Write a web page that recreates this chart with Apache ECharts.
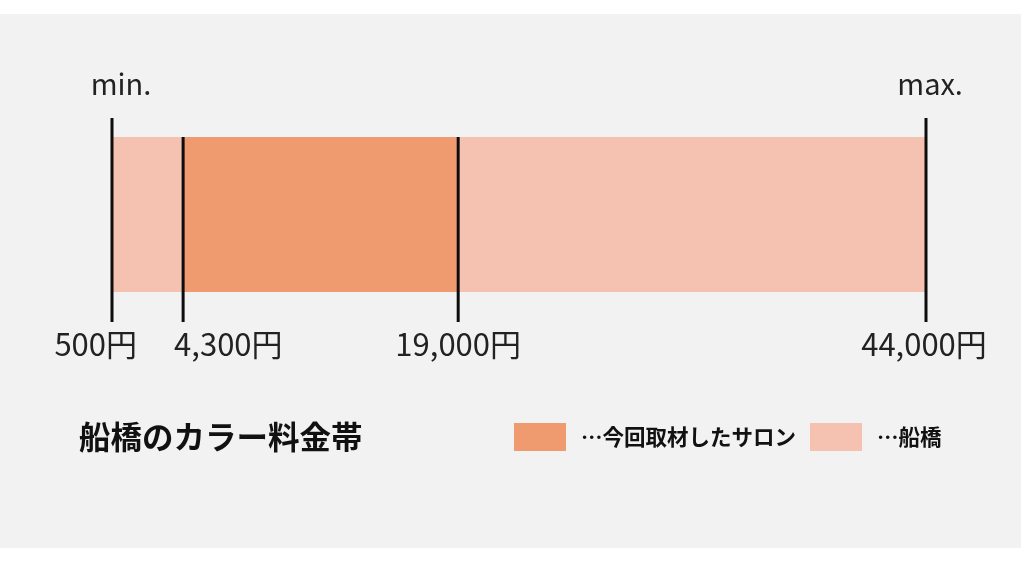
<!DOCTYPE html>
<html>
<head>
<meta charset="utf-8">
<script src="https://cdn.jsdelivr.net/npm/echarts@6/dist/echarts.min.js"></script>
<style>
html,body{margin:0;padding:0;background:#fff;}
#chart{width:1024px;height:562px;}
</style>
</head>
<body>
<div id="chart"></div>
<script>
// ---- data ----
const seriesNames = ['今回取材したサロン', '船橋'];
const salonRange = [4300, 19000];
const funabashiRange = [500, 44000];
const markerValues = [500, 4300, 19000, 44000];
const markerLabels = ['500円', '4,300円', '19,000円', '44,000円'];
const endLabels = ['min.', 'max.'];
const titleText = '船橋のカラー料金帯';

// ---- layout / style ----
const FONT = '"Noto Sans CJK JP", "Noto Sans", sans-serif';
const colors = { salon: '#F09A70', funabashi: '#F5C2B1', line: '#0d0d0d', text: '#222222' };
const barTop = 137, barBottom = 292;
const lineTopEnd = 118, lineTopInner = 137, lineBottom = 322;
const labelY = 344;
const labelStyle = [
  { align: 'right', dx: 25 },
  { align: 'left', dx: -9 },
  { align: 'center', dx: 0 },
  { align: 'center', dx: -2 }
];
const endLabelDx = [9, 4];
const endLabelY = 84;

const chart = echarts.init(document.getElementById('chart'));

function rangeItem(params, api) {
  const s = api.coord([api.value(0), 0]);
  const e = api.coord([api.value(1), 0]);
  return {
    type: 'rect',
    shape: { x: s[0], y: barTop, width: e[0] - s[0], height: barBottom - barTop },
    style: { fill: api.visual('color') }
  };
}

function markerItem(params, api) {
  const v = api.value(0);
  const x = api.coord([v, 0])[0];
  const idx = params.dataIndex;
  const isEnd = (v === funabashiRange[0] || v === funabashiRange[1]);
  const children = [{
    type: 'line',
    shape: { x1: x, y1: isEnd ? lineTopEnd : lineTopInner, x2: x, y2: lineBottom },
    style: { stroke: colors.line, lineWidth: 3 }
  }, {
    type: 'text',
    style: {
      text: markerLabels[idx], x: x + labelStyle[idx].dx, y: labelY,
      align: labelStyle[idx].align, verticalAlign: 'middle',
      fontFamily: FONT, fontSize: 31, fill: colors.text
    }
  }];
  if (isEnd) {
    const ei = v === funabashiRange[0] ? 0 : 1;
    children.push({
      type: 'text',
      style: {
        text: endLabels[ei], x: x + endLabelDx[ei], y: endLabelY,
        align: 'center', verticalAlign: 'middle',
        fontFamily: FONT, fontSize: 29, fill: colors.text
      }
    });
  }
  return { type: 'group', children: children };
}

chart.setOption({
  backgroundColor: '#ffffff',
  animation: false,
  graphic: [{
    type: 'rect', z: -10, silent: true,
    shape: { x: 0, y: 14, width: 1021, height: 534 },
    style: { fill: '#f2f2f2' }
  }],
  title: {
    text: titleText, left: 79, top: 421, padding: 0,
    textStyle: { fontFamily: FONT, fontSize: 31.5, fontWeight: 'bold', color: '#111' }
  },
  legend: {
    left: 514, top: 423, padding: 0,
    itemWidth: 52, itemHeight: 28, itemGap: 14,
    icon: 'rect',
    data: seriesNames,
    formatter: function (n) { return '…' + n; },
    textStyle: { fontFamily: FONT, fontSize: 21.5, fontWeight: 'bold', color: '#111', padding: [0, 0, 0, 10] }
  },
  grid: { left: 112, right: 98, top: 118, bottom: 240 },
  xAxis: { type: 'value', min: funabashiRange[0], max: funabashiRange[1], show: false },
  yAxis: { type: 'value', min: 0, max: 1, show: false },
  series: [
    {
      name: seriesNames[1], type: 'custom', renderItem: rangeItem, clip: false,
      itemStyle: { color: colors.funabashi },
      data: [funabashiRange], z: 1
    },
    {
      name: seriesNames[0], type: 'custom', renderItem: rangeItem, clip: false,
      itemStyle: { color: colors.salon },
      data: [salonRange], z: 2
    },
    {
      name: 'markers', type: 'custom', renderItem: markerItem, clip: false,
      data: markerValues.map(v => [v]), z: 3
    }
  ]
});
</script>
</body>
</html>
